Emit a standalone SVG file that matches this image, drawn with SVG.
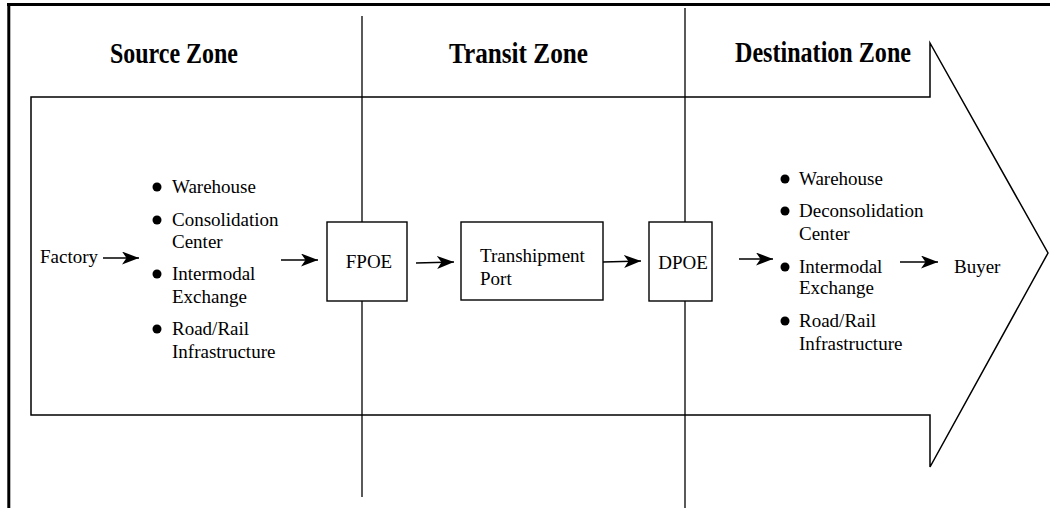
<svg xmlns="http://www.w3.org/2000/svg" width="1050" height="508" viewBox="0 0 1050 508">
<style>
.t{font-family:"Liberation Serif","Times New Roman",serif;font-size:19px;fill:#000}
.h{font-family:"Liberation Serif","Times New Roman",serif;font-size:29px;font-weight:bold;fill:#000}
.ln{stroke:#000;stroke-width:1.3;fill:none}
.box{stroke:#000;stroke-width:1.4;fill:#fff}
.con{stroke:#000;stroke-width:1.3;fill:none;marker-end:url(#ah)}
circle{fill:#000}
</style>
<defs>
<marker id="ah" markerUnits="userSpaceOnUse" markerWidth="18" markerHeight="13" refX="17" refY="6.5" orient="auto" viewBox="0 0 18 13">
<path d="M0,0 L17,6.5 L0,13 L4.5,6.5 z" fill="#000"/>
</marker>
</defs>
<rect width="1050" height="508" fill="#fff"/>
<g id="frame">
<line x1="7" y1="4.5" x2="1050" y2="4.5" stroke="#000" stroke-width="3"/>
<line x1="8.8" y1="3" x2="8.8" y2="508" stroke="#000" stroke-width="3"/>
</g>
<g id="big-arrow">
<path d="M31,97 L930,97 L930,43 L1048,253 L930,467 L930,415 L31,415 Z" fill="none" stroke="#000" stroke-width="1.5"/>
</g>
<g id="dividers">
<line class="ln" x1="362" y1="16" x2="362" y2="497"/>
<line class="ln" x1="685" y1="8" x2="685" y2="508"/>
</g>
<g id="titles">
<text class="h" x="110" y="63" textLength="128" lengthAdjust="spacingAndGlyphs">Source Zone</text>
<text class="h" x="449" y="63" textLength="139" lengthAdjust="spacingAndGlyphs">Transit Zone</text>
<text class="h" x="735" y="62" textLength="176" lengthAdjust="spacingAndGlyphs">Destination Zone</text>
</g>
<g id="factory">
<text class="t" x="40" y="263">Factory</text>
</g>
<g id="source-facilities">
<circle cx="157" cy="187" r="4.5"/>
<text class="t" x="172" y="193">Warehouse</text>
<circle cx="157" cy="220" r="4.5"/>
<text class="t" x="172" y="226">Consolidation</text>
<text class="t" x="172" y="248">Center</text>
<circle cx="157" cy="274" r="4.5"/>
<text class="t" x="172" y="280">Intermodal</text>
<text class="t" x="172" y="303">Exchange</text>
<circle cx="157" cy="329" r="4.5"/>
<text class="t" x="172" y="335">Road/Rail</text>
<text class="t" x="172" y="358">Infrastructure</text>
</g>
<g id="fpoe">
<rect class="box" x="327" y="222" width="80" height="79"/>
<text class="t" x="369" y="268" text-anchor="middle">FPOE</text>
</g>
<g id="transhipment-port">
<rect class="box" x="461" y="222" width="142" height="78"/>
<text class="t" x="480" y="262">Transhipment</text>
<text class="t" x="480" y="285">Port</text>
</g>
<g id="dpoe">
<rect class="box" x="649" y="222" width="63" height="79"/>
<text class="t" x="683" y="269" text-anchor="middle">DPOE</text>
</g>
<g id="destination-facilities">
<circle cx="785" cy="179" r="4.5"/>
<text class="t" x="799" y="185">Warehouse</text>
<circle cx="785" cy="211" r="4.5"/>
<text class="t" x="799" y="217">Deconsolidation</text>
<text class="t" x="799" y="240">Center</text>
<circle cx="785" cy="267" r="4.5"/>
<text class="t" x="799" y="273">Intermodal</text>
<text class="t" x="799" y="294">Exchange</text>
<circle cx="785" cy="321" r="4.5"/>
<text class="t" x="799" y="327">Road/Rail</text>
<text class="t" x="799" y="350">Infrastructure</text>
</g>
<g id="buyer">
<text class="t" x="954" y="273">Buyer</text>
</g>
<g id="connectors">
<line class="con" x1="103" y1="258" x2="139" y2="258"/>
<line class="con" x1="281" y1="260" x2="318" y2="260"/>
<line class="con" x1="416" y1="263" x2="454" y2="262"/>
<line class="con" x1="603" y1="262" x2="641" y2="261"/>
<line class="con" x1="739" y1="259" x2="773" y2="259"/>
<line class="con" x1="900" y1="262" x2="938" y2="262"/>
</g>
</svg>
